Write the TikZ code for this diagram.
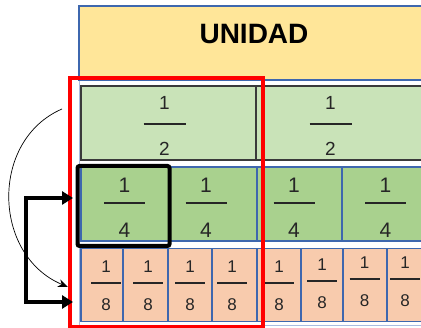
\documentclass[tikz,border=0pt]{standalone}
\usepackage{fontspec}
\setmainfont{Liberation Sans}
\usetikzlibrary{arrows.meta}

\definecolor{unitfill}{HTML}{FFE699}
\definecolor{halffill}{HTML}{C9E3B8}
\definecolor{quarterfill}{HTML}{A9D18E}
\definecolor{eighthfill}{HTML}{F8CBAD}
\definecolor{cellblue}{HTML}{3E67AE}
\definecolor{outerblue}{HTML}{A9BCE0}
\definecolor{halfedge}{HTML}{3A3A3A}

\tikzset{
  cellbox/.style={anchor=north west, inner sep=0pt, outer sep=0pt, line width=1.3pt},
  unitcell/.style={cellbox, fill=unitfill, draw=cellblue},
  halfcell/.style={cellbox, fill=halffill, draw=halfedge, line width=1.6pt},
  quartercell/.style={cellbox, fill=quarterfill, draw=cellblue},
  eighthcell/.style={cellbox, fill=eighthfill, draw=cellblue},
  numtext/.style={inner sep=0pt, text=black!85},
  barline/.style={line width=2pt, black!85},
  redframe/.style={draw=red, line width=4pt},
  focusframe/.style={draw=black, line width=4pt, rounded corners=2pt},
  bracket/.style={line width=4pt, line join=miter,
    {Triangle[length=11pt,width=13pt]}-{Triangle[length=11pt,width=13pt]}},
  sweep/.style={line width=0.7pt, -{Stealth[length=10pt,width=8pt]}}
}

\begin{document}
\begin{tikzpicture}[x=1pt,y=-1pt]
\useasboundingbox (0,0) rectangle (421,328);

% outer table outline
\draw[outerblue, line width=0.8pt] (79,6) rectangle (445,325);

% the whole
\node[unitcell, minimum width=366pt, minimum height=74pt] (unit) at (79,6) {};
\node[font=\bfseries\fontsize{28}{30}\selectfont, inner sep=0pt] (unitlabel) at (254,34) {UNIDAD};

% halves
\node[halfcell, minimum width=175pt, minimum height=74pt] (h1) at (81,86) {};
\node[halfcell, minimum width=175pt, minimum height=74pt] (h2) at (256,86) {};

% quarters
\foreach \x/\w [count=\i] in {81/88,169/88,257/85,342/88}
  \node[quartercell, minimum width=\w pt, minimum height=74pt] (q\i) at (\x,167) {};

% eighths
\foreach \x/\w [count=\i] in {81/42,123/45,168/44,212/45,257/44,301/42,343/44,387/44}
  \node[eighthcell, minimum width=\w pt, minimum height=73pt] (e\i) at (\x,248.5) {};

% half labels
\foreach \c in {164.5,330.5}{
  \node[numtext, font=\fontsize{19}{20}\selectfont] at (\c,103) {1};
  \draw[barline] (\c-21,124.5) -- (\c+21,124.5);
  \node[numtext, font=\fontsize{19}{20}\selectfont] at (\c,149) {2};
}

% quarter labels
\foreach \c in {124.5,206,294,385.5}{
  \node[numtext, font=\fontsize{21}{22}\selectfont] at (\c,185) {1};
  \draw[barline] (\c-20.5,203) -- (\c+20.5,203);
  \node[numtext, font=\fontsize{21}{22}\selectfont] at (\c,230) {4};
}

% eighth labels
\foreach \c/\dy in {106/0,148/0,190/0,232/0,279/0,322/-2,364.5/-4,405/-4}{
  \node[numtext, font=\fontsize{17}{18}\selectfont] at (\c,267+\dy) {1};
  \draw[barline, line width=1.7pt] (\c-15,283+\dy) -- (\c+15,283+\dy);
  \node[numtext, font=\fontsize{17}{18}\selectfont] at (\c,305+\dy) {8};
}

% highlighted quarter
\draw[focusframe] (77.5,166) rectangle (169.5,246);

% red frame around the first half
\draw[redframe] (70,78.5) rectangle (263,327);

% connectors
\coordinate (sweepstart) at (62,109);
\coordinate (sweepend) at (68,287);
\draw[sweep] (sweepstart) .. controls (-10,140) and (-8,255) .. (sweepend);

\coordinate (toquarter) at (73,198);
\coordinate (toeighth) at (73,302);
\draw[bracket] (toquarter) -- (26,198) |- (toeighth);
\end{tikzpicture}
\end{document}
